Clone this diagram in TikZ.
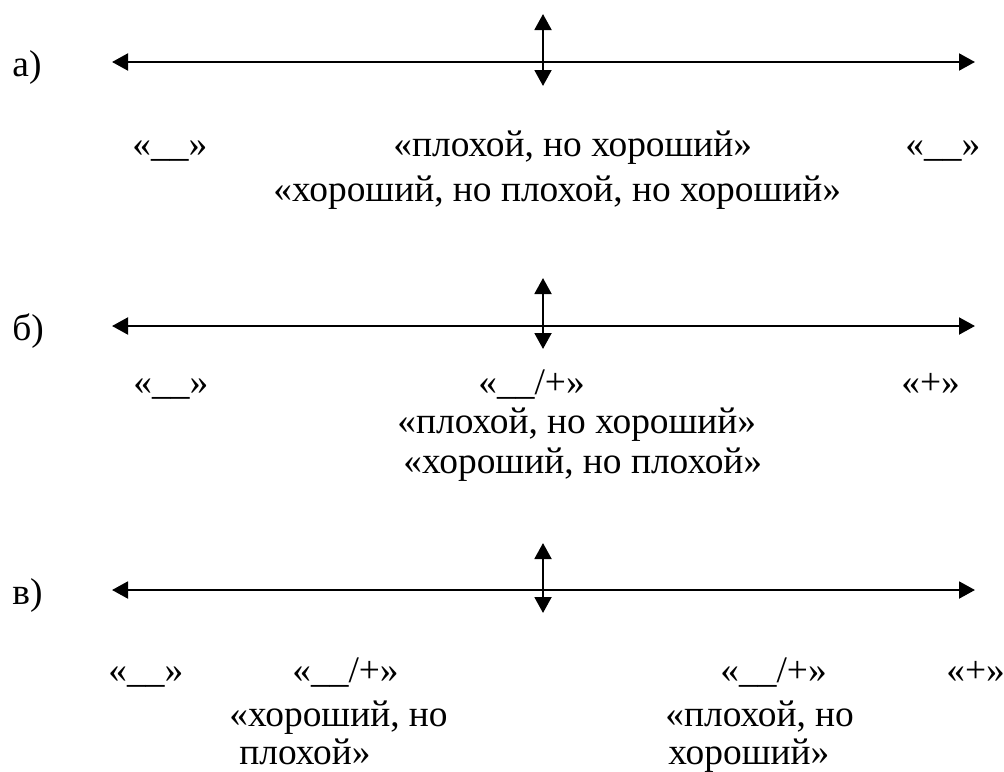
\documentclass[tikz,border=0pt]{standalone}
\usepackage{fontspec}
\setmainfont{Liberation Serif}
\usepackage{tikz}
\usetikzlibrary{
	arrows.meta,    % Triangle tips
	positioning
}
\tikzset{
	txt/.style={anchor=base west, inner sep=0pt, font=\fontsize{18.7}{22}\selectfont},
	axe/.style={{Triangle[length=8pt,width=8.4pt]}-{Triangle[length=8pt,width=8.4pt]}, line width=1.3pt}
}

\begin{document}
\begin{tikzpicture}[x=0.5pt, y=-0.5pt]
		% Cornice: 1004 x 771
		\useasboundingbox (0,0) rectangle (1004,771);
		% Estremi degli assi
		\def\xL{112}   % punta sinistra
		\def\xR{975}   % punta destra
		\def\xV{543}   % asse verticale
		
		% --- Caso a) ---
		\coordinate (aL) at (\xL,62);
		\coordinate (aR) at (\xR,62);
		\coordinate (aT) at (\xV,14);
		\coordinate (aB) at (\xV,86);
		\draw[axe] (aL) -- (aR);
		\draw[axe] (aT) -- (aB);
		\node[txt] (aLab) at (12,76) {а)};
		\node[txt] (aNeg) at (132,156) {«\_\_»};
		\node[txt] (aMid) at (393,156) {«плохой, но хороший»};
		\node[txt] (aPos) at (905,156) {«\_\_»};
		\node[txt] (aMidB) at (273,201) {«хороший, но плохой, но хороший»};
		
		% --- Caso б) ---
		\coordinate (bL) at (\xL,326);
		\coordinate (bR) at (\xR,326);
		\coordinate (bT) at (\xV,278);
		\coordinate (bB) at (\xV,349);
		\draw[axe] (bL) -- (bR);
		\draw[axe] (bT) -- (bB);
		\node[txt] (bLab) at (12,340) {б)};
		\node[txt] (bNeg) at (133,394) {«\_\_»};
		\node[txt] (bMix) at (478,394) {«\_\_/+»};
		\node[txt] (bPos) at (901,394) {«+»};
		\node[txt] (bMid) at (397,433) {«плохой, но хороший»};
		\node[txt] (bMidB) at (403,473) {«хороший, но плохой»};
		
		% --- Caso в) ---
		\coordinate (cL) at (\xL,590);
		\coordinate (cR) at (\xR,590);
		\coordinate (cT) at (\xV,543);
		\coordinate (cB) at (\xV,613);
		\draw[axe] (cL) -- (cR);
		\draw[axe] (cT) -- (cB);
		\node[txt] (cLab) at (12,604) {в)};
		\node[txt] (cNeg) at (108,682) {«\_\_»};
		\node[txt] (cMixL) at (292,682) {«\_\_/+»};
		\node[txt] (cMixR) at (720,682) {«\_\_/+»};
		\node[txt] (cPos) at (946,682) {«+»};
		\node[txt] (cGood) at (229,726) {«хороший, но};
		\node[txt] (cGoodB) at (239,764) {плохой»};
		\node[txt] (cBad) at (665,726) {«плохой, но};
		\node[txt] (cBadB) at (668,764) {хороший»};
	\end{tikzpicture}
\end{document}
